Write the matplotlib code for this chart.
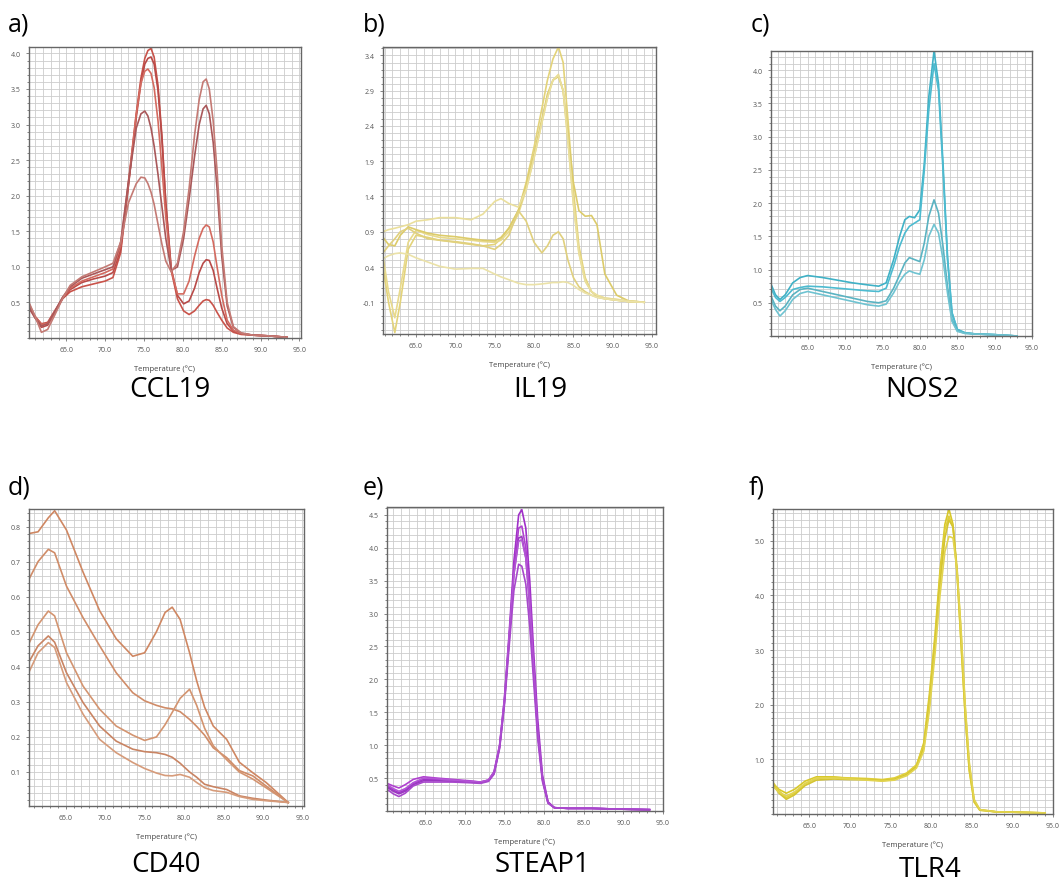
import numpy as np
import matplotlib.pyplot as plt
from matplotlib.ticker import MultipleLocator, FormatStrFormatter

# melt curves, -dF/dT

# a) CCL19
t_a = [60.2, 61.0, 61.8, 62.6, 63.5, 64.5, 65.5, 67.0, 68.5, 70.0, 71.0, 72.0, 73.0,
       74.0, 74.6, 75.1, 75.5, 75.9, 76.3, 76.8, 77.3, 77.8,
       78.5, 79.3, 80.1, 80.8, 81.5,
       82.1, 82.6, 83.0, 83.4, 83.9, 84.4, 85.0,
       85.7, 86.5, 87.5, 89.0, 91.0, 93.4]
ccl19 = [
    [0.45, 0.30, 0.20, 0.22, 0.38, 0.55, 0.65, 0.72, 0.76, 0.80, 0.85, 1.20, 2.15,
     3.15, 3.65, 3.93, 4.04, 4.07, 3.95, 3.55, 2.85, 1.90,
     0.95, 0.55, 0.38, 0.33, 0.38,
     0.46, 0.52, 0.54, 0.53, 0.46, 0.36, 0.25,
     0.14, 0.08, 0.05, 0.04, 0.03, 0.01],
    [0.42, 0.28, 0.15, 0.18, 0.35, 0.55, 0.68, 0.78, 0.83, 0.87, 0.92, 1.25, 2.15,
     3.10, 3.58, 3.85, 3.93, 3.95, 3.85, 3.48, 2.80, 1.90,
     0.98, 0.60, 0.48, 0.52, 0.70,
     0.92, 1.05, 1.10, 1.09, 0.95, 0.70, 0.42,
     0.20, 0.10, 0.06, 0.04, 0.03, 0.01],
    [0.48, 0.30, 0.19, 0.20, 0.36, 0.56, 0.70, 0.80, 0.86, 0.92, 0.97, 1.30, 2.20,
     3.15, 3.58, 3.75, 3.78, 3.72, 3.52, 3.05, 2.40, 1.70,
     0.95, 0.62, 0.62, 0.80, 1.15,
     1.40, 1.54, 1.59, 1.56, 1.35, 1.00, 0.60,
     0.25, 0.11, 0.06, 0.04, 0.03, 0.01],
    [0.45, 0.28, 0.17, 0.20, 0.37, 0.57, 0.72, 0.84, 0.90, 0.96, 1.00, 1.35, 2.20,
     2.95, 3.15, 3.19, 3.12, 2.95, 2.70, 2.30, 1.85, 1.40,
     0.95, 1.00, 1.40, 1.95, 2.55,
     3.00, 3.22, 3.27, 3.15, 2.75, 2.10, 1.15,
     0.45, 0.15, 0.07, 0.04, 0.03, 0.01],
    [0.50, 0.30, 0.08, 0.12, 0.32, 0.55, 0.74, 0.86, 0.93, 1.00, 1.05, 1.35, 1.90,
     2.17, 2.26, 2.25, 2.17, 2.05, 1.88, 1.60, 1.32, 1.08,
     0.93, 1.05, 1.50, 2.10, 2.85,
     3.35, 3.60, 3.64, 3.50, 3.05, 2.35, 1.30,
     0.50, 0.16, 0.07, 0.04, 0.03, 0.01],
]

# b) IL19
t_b = [60.8, 61.5, 62.3, 63.0, 64.0, 65.0, 66.5, 68.0, 70.0, 72.0, 73.5, 75.0, 75.8, 76.8, 78.0, 79.0,
       80.0, 81.0, 81.7, 82.4, 83.1, 83.7, 84.3, 85.0, 85.7, 86.5, 87.3, 88.0, 89.0, 90.5, 92.0, 94.0]
il19 = [
    [0.40, -0.10, -0.53, -0.10, 0.65, 0.85, 0.82, 0.78, 0.75, 0.72, 0.70, 0.72, 0.80, 0.95, 1.20, 1.60,
     2.10, 2.65, 3.05, 3.35, 3.52, 3.30, 2.50, 1.50, 0.70, 0.25, 0.05, -0.02, -0.05, -0.07, -0.09, -0.10],
    [0.55, 0.05, -0.32, 0.10, 0.75, 0.92, 0.86, 0.82, 0.80, 0.78, 0.76, 0.75, 0.78, 0.90, 1.15, 1.50,
     1.95, 2.45, 2.80, 3.05, 3.13, 2.90, 2.20, 1.30, 0.60, 0.20, 0.05, 0.00, -0.04, -0.06, -0.08, -0.10],
    [0.82, 0.72, 0.70, 0.85, 0.97, 0.93, 0.88, 0.85, 0.83, 0.80, 0.78, 0.77, 0.82, 0.95, 1.20, 1.55,
     2.00, 2.50, 2.85, 3.05, 3.10, 2.90, 2.30, 1.60, 1.20, 1.12, 1.13, 1.00, 0.30, 0.00, -0.08, -0.10],
    [0.90, 0.93, 0.95, 0.97, 1.00, 1.05, 1.07, 1.10, 1.10, 1.07, 1.15, 1.33, 1.37, 1.30, 1.25, 1.50,
     1.95, 2.45, 2.80, 3.05, 3.12, 2.90, 2.20, 1.30, 0.60, 0.20, 0.05, 0.00, -0.04, -0.06, -0.08, -0.10],
    [0.60, 0.70, 0.80, 0.90, 0.95, 0.88, 0.80, 0.78, 0.76, 0.73, 0.70, 0.65, 0.72, 0.85, 1.20, 1.05,
     0.75, 0.60, 0.70, 0.85, 0.90, 0.80, 0.50, 0.25, 0.12, 0.05, 0.00, -0.03, -0.05, -0.07, -0.09, -0.10],
    [0.52, 0.56, 0.59, 0.60, 0.58, 0.53, 0.47, 0.41, 0.37, 0.38, 0.38, 0.30, 0.26, 0.22, 0.17, 0.15,
     0.15, 0.16, 0.17, 0.18, 0.18, 0.19, 0.18, 0.14, 0.08, 0.03, 0.00, -0.03, -0.05, -0.07, -0.09, -0.10],
]

# c) NOS2
t_c = [60.1, 60.7, 61.3, 62.0, 63.0, 64.0, 65.0, 67.0, 69.0, 71.0, 73.0, 74.5, 75.5, 76.5, 77.3, 78.0,
       78.6, 79.3, 80.0, 80.6, 81.2, 81.9, 82.5, 83.1, 83.7, 84.3, 85.0, 86.0, 87.5, 90.0, 93.0]
nos2 = [
    [0.78, 0.62, 0.55, 0.62, 0.80, 0.88, 0.91, 0.88, 0.84, 0.80, 0.77, 0.75, 0.80, 1.15, 1.50, 1.75,
     1.80, 1.78, 1.90, 2.60, 3.60, 4.29, 3.80, 2.60, 1.20, 0.35, 0.10, 0.05, 0.03, 0.02, 0.00],
    [0.72, 0.58, 0.52, 0.58, 0.70, 0.73, 0.75, 0.74, 0.72, 0.70, 0.68, 0.67, 0.72, 1.05, 1.35, 1.55,
     1.65, 1.70, 1.75, 2.50, 3.40, 4.10, 3.70, 2.50, 1.15, 0.35, 0.10, 0.05, 0.03, 0.02, 0.00],
    [0.60, 0.45, 0.38, 0.45, 0.62, 0.70, 0.72, 0.67, 0.62, 0.57, 0.52, 0.50, 0.53, 0.72, 0.92, 1.10,
     1.18, 1.15, 1.12, 1.40, 1.80, 2.05, 1.85, 1.35, 0.75, 0.25, 0.08, 0.04, 0.03, 0.02, 0.00],
    [0.55, 0.40, 0.30, 0.38, 0.55, 0.64, 0.67, 0.62, 0.57, 0.52, 0.47, 0.45, 0.48, 0.65, 0.82, 0.93,
     0.98, 0.95, 0.93, 1.15, 1.50, 1.68, 1.55, 1.15, 0.65, 0.22, 0.07, 0.04, 0.03, 0.02, 0.00],
]

# d) CD40
t_d = [60.35, 61.5, 62.8, 63.6, 65.1, 67.2, 69.3, 71.4, 73.5, 75.0, 76.5, 77.6, 78.5, 79.5, 80.7, 81.6,
       82.6, 83.7, 85.4, 87.0, 88.7, 90.4, 93.2]
cd40 = [
    [0.780, 0.785, 0.825, 0.845, 0.790, 0.670, 0.560, 0.480, 0.430, 0.440, 0.500, 0.555, 0.570, 0.535,
     0.440, 0.360, 0.285, 0.231, 0.193, 0.128, 0.098, 0.070, 0.013],
    [0.650, 0.700, 0.735, 0.725, 0.630, 0.540, 0.460, 0.383, 0.326, 0.303, 0.290, 0.283, 0.280, 0.272,
     0.250, 0.230, 0.205, 0.169, 0.141, 0.104, 0.089, 0.060, 0.013],
    [0.467, 0.520, 0.559, 0.545, 0.440, 0.345, 0.279, 0.231, 0.205, 0.190, 0.200, 0.235, 0.270, 0.310,
     0.336, 0.290, 0.225, 0.175, 0.135, 0.100, 0.080, 0.055, 0.013],
    [0.414, 0.460, 0.488, 0.470, 0.383, 0.298, 0.231, 0.188, 0.165, 0.158, 0.155, 0.150, 0.142, 0.125,
     0.100, 0.085, 0.065, 0.058, 0.050, 0.032, 0.025, 0.020, 0.013],
    [0.385, 0.440, 0.469, 0.455, 0.355, 0.265, 0.193, 0.155, 0.127, 0.110, 0.097, 0.090, 0.089, 0.093,
     0.085, 0.070, 0.055, 0.047, 0.042, 0.030, 0.022, 0.018, 0.013],
]

# e) STEAP1
t_e = [60.2, 61.0, 61.7, 62.5, 63.5, 64.8, 66.5, 68.5, 70.5, 72.0, 73.0, 73.7, 74.4, 75.0, 75.6, 76.2,
       76.8, 77.2, 77.7, 78.2, 78.7, 79.2, 79.8, 80.5, 81.3, 83.0, 86.0, 89.0, 93.3]
steap1 = [
    [0.38, 0.32, 0.28, 0.32, 0.42, 0.48, 0.48, 0.47, 0.45, 0.44, 0.47, 0.60, 1.00, 1.70, 2.70, 3.80,
     4.50, 4.58, 4.30, 3.50, 2.40, 1.40, 0.55, 0.14, 0.05, 0.04, 0.04, 0.03, 0.02],
    [0.42, 0.38, 0.35, 0.40, 0.48, 0.52, 0.50, 0.48, 0.46, 0.44, 0.47, 0.58, 0.98, 1.65, 2.60, 3.65,
     4.30, 4.33, 4.00, 3.25, 2.20, 1.25, 0.50, 0.13, 0.05, 0.04, 0.04, 0.03, 0.02],
    [0.36, 0.30, 0.26, 0.30, 0.40, 0.46, 0.46, 0.45, 0.44, 0.43, 0.46, 0.57, 0.97, 1.65, 2.60, 3.60,
     4.15, 4.17, 3.85, 3.10, 2.10, 1.20, 0.48, 0.13, 0.05, 0.04, 0.04, 0.03, 0.02],
    [0.40, 0.34, 0.30, 0.34, 0.43, 0.50, 0.49, 0.47, 0.45, 0.44, 0.47, 0.59, 1.00, 1.70, 2.65, 3.60,
     4.10, 4.12, 3.85, 3.15, 2.15, 1.20, 0.48, 0.12, 0.05, 0.04, 0.04, 0.03, 0.02],
    [0.33, 0.26, 0.22, 0.27, 0.38, 0.44, 0.44, 0.44, 0.43, 0.42, 0.45, 0.56, 0.95, 1.60, 2.50, 3.35,
     3.75, 3.72, 3.45, 2.80, 1.95, 1.10, 0.45, 0.12, 0.05, 0.04, 0.04, 0.03, 0.02],
]

# f) TLR4
t_f = [60.6, 61.3, 62.2, 63.2, 64.5, 65.9, 68.0, 70.0, 72.0, 74.0, 75.5, 77.0, 78.2, 79.1, 79.8, 80.5,
       81.1, 81.7, 82.2, 82.7, 83.2, 83.7, 84.2, 84.7, 85.3, 86.0, 88.0, 91.0, 94.0]
tlr4 = [
    [0.55, 0.45, 0.38, 0.45, 0.60, 0.68, 0.68, 0.65, 0.64, 0.62, 0.64, 0.72, 0.88, 1.30, 2.20, 3.30,
     4.45, 5.30, 5.58, 5.30, 4.40, 3.10, 1.80, 0.80, 0.22, 0.07, 0.04, 0.03, 0.02],
    [0.57, 0.42, 0.30, 0.38, 0.55, 0.65, 0.67, 0.66, 0.65, 0.63, 0.66, 0.75, 0.90, 1.25, 2.10, 3.20,
     4.35, 5.20, 5.45, 5.25, 4.40, 3.10, 1.80, 0.80, 0.22, 0.07, 0.04, 0.03, 0.02],
    [0.53, 0.38, 0.27, 0.35, 0.52, 0.62, 0.64, 0.63, 0.63, 0.61, 0.63, 0.72, 0.86, 1.20, 2.00, 3.10,
     4.20, 5.05, 5.38, 5.25, 4.50, 3.30, 1.95, 0.90, 0.25, 0.08, 0.04, 0.03, 0.02],
    [0.50, 0.40, 0.33, 0.40, 0.56, 0.66, 0.66, 0.64, 0.62, 0.60, 0.62, 0.70, 0.84, 1.15, 1.90, 2.95,
     4.00, 4.80, 5.08, 5.05, 4.45, 3.35, 2.00, 0.95, 0.27, 0.08, 0.04, 0.03, 0.02],
]

W, H = 1060, 887
fig = plt.figure(figsize=(W / 100, H / 100), dpi=100)
plt.rcParams['font.family'] = ['Open Sans', 'DejaVu Sans']

# (letter, gene, t, curves, colours, axes box in px [l, r, top, bottom], xlim, ylim, yticks, y grid step, label pos, name pos)
panels = [
    ('a)', 'CCL19', t_a, ccl19, ['#c9534a', '#b84a48', '#d46a5f', '#a9585a', '#c47a74'],
     (29, 301, 48, 339), (60.2, 95.2), (0.0, 4.09), (0.5, 4.0, 0.5), 0.1, (8, 25), (170, 390)),
    ('b)', 'IL19', t_b, il19, ['#e3d37a', '#e8da8c', '#dccb6a', '#eadf9c', '#e0d07e', '#ebe2a8'],
     (383, 656, 48, 335), (60.8, 95.5), (-0.55, 3.52), (-0.1, 3.4, 0.5), 0.1, (363, 25), (540, 390)),
    ('c)', 'NOS2', t_c, nos2, ['#3fb1c6', '#4dbbd0', '#5ab3c2', '#6fc3d1'],
     (771, 1032, 52, 337), (60.1, 94.9), (0.0, 4.29), (0.5, 4.0, 0.5), 0.1, (751, 25), (922, 390)),
    ('d)', 'CD40', t_d, cd40, ['#cf8762', '#d08c68', '#d39470', '#c98463', '#d69b7a'],
     (29, 304, 510, 807), (60.35, 95.2), (0.003, 0.85), (0.1, 0.8, 0.1), 0.02, (8, 488), (166, 865)),
    ('e)', 'STEAP1', t_e, steap1, ['#a030c8', '#b040d0', '#9a38c0', '#b355d5', '#a848cc'],
     (387, 663, 508, 812), (60.2, 94.9), (0.0, 4.62), (0.5, 4.5, 0.5), 0.1, (363, 488), (543, 865)),
    ('f)', 'TLR4', t_f, tlr4, ['#d8c82a', '#e0cf3a', '#d4c430', '#e2d450'],
     (773, 1053, 510, 815), (60.56, 95.0), (0.0, 5.58), (1.0, 5.0, 1.0), 0.125, (749, 488), (930, 870)),
]

for (letter, gene, t, curves, cols, box, xlim, ylim, yt, ygrid, lpos, npos) in panels:
    l, r, top, bot = box
    ax = fig.add_axes([l / W, 1 - bot / H, (r - l) / W, (bot - top) / H])
    for y, c in zip(curves, cols):
        ax.plot(t, y, color=c, lw=1.2)
    ax.set_xlim(*xlim)
    ax.set_ylim(*ylim)
    ax.set_xticks(np.arange(65, 96, 5))
    ax.set_yticks(np.arange(yt[0], yt[1] + 1e-6, yt[2]))
    ax.xaxis.set_major_formatter(FormatStrFormatter('%.1f'))
    ax.yaxis.set_major_formatter(FormatStrFormatter('%.1f'))
    ax.xaxis.set_minor_locator(MultipleLocator(1))
    ax.yaxis.set_minor_locator(MultipleLocator(ygrid))
    ax.grid(True, which='both', color='#cccccc', lw=0.6)
    ax.set_axisbelow(True)
    ax.tick_params(which='both', labelsize=5, colors='#555555', length=2, width=0.5, pad=4)
    ax.tick_params(which='minor', length=1.5)
    ax.set_xlabel('Temperature (\u00b0C)', fontsize=5.5, color='#444444', labelpad=8)
    for s in ax.spines.values():
        s.set_color('#666666')
        s.set_linewidth(1.0)
    fig.text(lpos[0] / W, 1 - lpos[1] / H, letter, fontsize=18, ha='left', va='center')
    fig.text(npos[0] / W, 1 - npos[1] / H, gene, fontsize=20, ha='center', va='center')

fig.savefig('out.png', dpi=100, facecolor='white')
